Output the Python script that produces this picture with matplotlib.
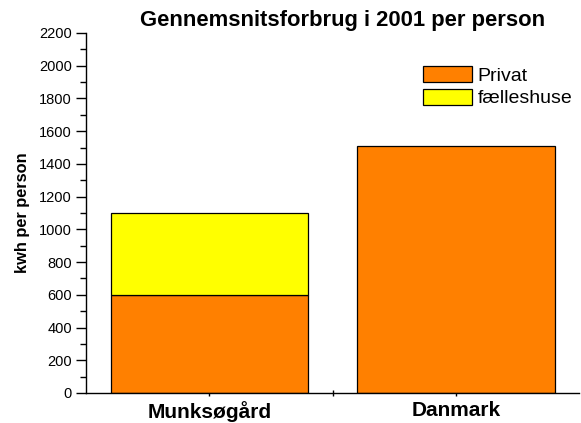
import matplotlib.pyplot as plt
from matplotlib.ticker import MultipleLocator, FixedLocator

plt.rcParams['font.family'] = ['Liberation Sans', 'DejaVu Sans']

# data
categories = ['Munksøgård', 'Danmark']
privat = [600, 1510]
faelleshuse = [500, 0]
title = 'Gennemsnitsforbrug i 2001 per person'
ylabel = 'kwh per person'

fig = plt.figure(figsize=(5.81, 4.23), dpi=100)
ax = fig.add_axes([0.148, 0.071, 0.849, 0.851])

x = [1, 2]
ax.bar(x, privat, width=0.8, color='#FF8000', edgecolor='#000000', linewidth=0.9,
       label='Privat', zorder=2)
ax.bar(x[:1], faelleshuse[:1], bottom=privat[:1], width=0.8, color='#FFFF00',
       edgecolor='#000000', linewidth=0.9, label='fælleshuse', zorder=2)

ax.set_xlim(0.5, 2.5)
ax.set_ylim(0, 2200)
ax.yaxis.set_major_locator(MultipleLocator(200))
ax.yaxis.set_minor_locator(MultipleLocator(100))
ax.set_xticks(x)
ax.set_xticklabels(categories, fontsize=15, fontweight='bold')
ax.xaxis.set_minor_locator(FixedLocator([1.5]))

ax.tick_params(axis='y', which='major', length=7, width=1, labelsize=10.5, pad=3)
ax.tick_params(axis='y', which='minor', length=4, width=1)
ax.tick_params(axis='x', which='both', direction='inout', length=5, width=1, pad=3)

for s in ['top', 'right']:
    ax.spines[s].set_visible(False)
ax.spines['left'].set_linewidth(1)
ax.spines['bottom'].set_linewidth(1)

ax.set_title(title, fontsize=15.8, fontweight='bold', pad=5, x=0.52)
ax.set_ylabel(ylabel, fontsize=11.8, fontweight='bold', labelpad=7)

ax.legend(loc='upper left', bbox_to_anchor=(0.684, 0.908), frameon=False, fontsize=14,
          handlelength=2.5, handleheight=0.88, handletextpad=0.3, labelspacing=0.2,
          borderaxespad=0, borderpad=0)

fig.savefig('out.png', dpi=100)
